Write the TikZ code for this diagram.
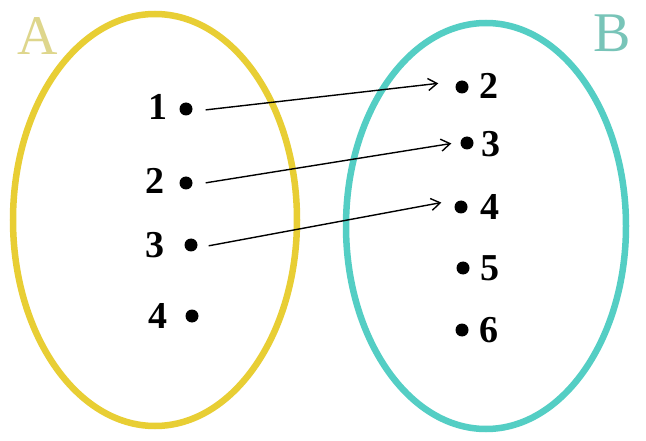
\documentclass[tikz,border=0pt]{standalone}
\usepackage{fontspec}
\setmainfont{Liberation Serif}
\usetikzlibrary{arrows.meta}
\definecolor{yel}{RGB}{232,206,52}
\definecolor{tea}{RGB}{84,206,196}
\definecolor{yelt}{RGB}{222,214,140}
\definecolor{teat}{RGB}{120,196,184}
\tikzset{
  dotpt/.style={circle,fill=black,inner sep=0pt,minimum size=13pt},
  num/.style={font=\fontsize{38}{38}\selectfont\bfseries,inner sep=0pt},
  setlbl/.style={font=\fontsize{56}{56}\selectfont,inner sep=0pt},
  mapar/.style={-{Straight Barb[length=9pt,width=12pt,line width=1.4pt]},line width=1.4pt,shorten <=1pt,shorten >=3pt}
}
\begin{document}
\begin{tikzpicture}[x=1pt,y=-1pt]
\useasboundingbox[fill=white] (0,0) rectangle (646,441);
\draw[yel,line width=6.5pt] (155,220) ellipse [x radius=142,y radius=206];
\draw[tea,line width=6.5pt] (486,226) ellipse [x radius=140,y radius=203];
\node[setlbl,text=yelt] (lA) at (38,36) {A};
\node[setlbl,text=teat] (lB) at (612,33) {B};
% left set
\node[dotpt] (a1) at (186,109) {};
\node[dotpt] (a2) at (186,183) {};
\node[dotpt] (a3) at (191,245) {};
\node[dotpt] (a4) at (192,316) {};
\node[num] (t1) at (158,107) {1};
\node[num] (t2) at (155,181) {2};
\node[num] (t3) at (155,245) {3};
\node[num] (t4) at (158,316) {4};
% right set
\node[dotpt] (b2) at (462,87) {};
\node[dotpt] (b3) at (467,143) {};
\node[dotpt] (b4) at (461,207) {};
\node[dotpt] (b5) at (463,268) {};
\node[dotpt] (b6) at (462,330) {};
\node[num] (s2) at (489,86) {2};
\node[num] (s3) at (491,144) {3};
\node[num] (s4) at (490,207) {4};
\node[num] (s5) at (490,268) {5};
\node[num] (s6) at (489,330) {6};
% arrows
\draw[mapar] (a1.east) ++(12,1) coordinate (c1) (c1) -- ([xshift=-14pt,yshift=4pt]b2.west);
\draw[mapar] (a2.east) ++(12,0) coordinate (c2) (c2) -- ([xshift=-6pt,yshift=0pt]b3.west);
\draw[mapar] (a3.east) ++(10,1) coordinate (c3) (c3) -- ([xshift=-10pt,yshift=5pt]b4.west);
\end{tikzpicture}
\end{document}
